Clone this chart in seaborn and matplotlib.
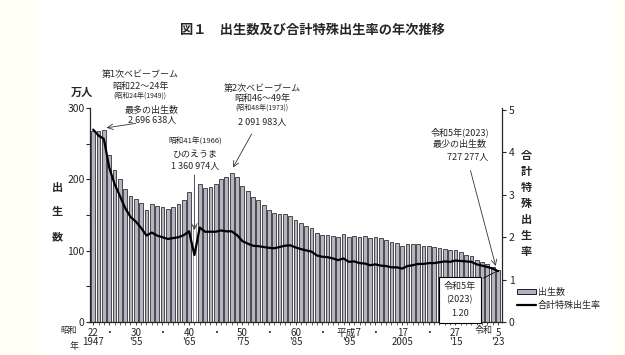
import matplotlib.pyplot as plt
import numpy as np
import pandas as pd
import seaborn as sns
from matplotlib.lines import Line2D
from matplotlib.patches import Patch, Rectangle

years = list(range(1947, 2024))
births = [2678792, 2681624, 2696638, 2337507, 2137689, 2005162, 1868040, 1769580,
          1730692, 1665278, 1566713, 1653469, 1626088, 1606041, 1589372, 1618616,
          1659521, 1716761, 1823697, 1360974, 1935647, 1871839, 1889815, 1934239,
          2000973, 2038682, 2091983, 2029989, 1901440, 1832617, 1755100, 1708643,
          1642580, 1576889, 1529455, 1515392, 1508687, 1489780, 1431577, 1382946,
          1346658, 1314006, 1246802, 1221585, 1223245, 1208989, 1188282, 1238328,
          1187064, 1206555, 1191665, 1203147, 1177669, 1190547, 1170662, 1153855,
          1123610, 1110721, 1062530, 1092674, 1089818, 1091156, 1070036, 1071305,
          1050807, 1037232, 1029817, 1003609, 1005721, 977242, 946146, 918400,
          865239, 840835, 811622, 770759, 727277]
tfr = [4.54, 4.40, 4.32, 3.65, 3.26, 2.98, 2.69, 2.48, 2.37, 2.22, 2.04, 2.11,
       2.04, 2.00, 1.96, 1.98, 2.00, 2.05, 2.14, 1.58, 2.23, 2.13, 2.13, 2.13,
       2.16, 2.14, 2.14, 2.05, 1.91, 1.85, 1.80, 1.79, 1.77, 1.75, 1.74, 1.77,
       1.80, 1.81, 1.76, 1.72, 1.69, 1.66, 1.57, 1.54, 1.53, 1.50, 1.46, 1.50,
       1.42, 1.43, 1.39, 1.38, 1.34, 1.36, 1.33, 1.32, 1.29, 1.29, 1.26, 1.32,
       1.34, 1.37, 1.37, 1.39, 1.39, 1.41, 1.43, 1.42, 1.45, 1.44, 1.43, 1.42,
       1.36, 1.33, 1.30, 1.26, 1.20]

tick_years = [1947, 1950, 1955, 1960, 1965, 1970, 1975, 1980, 1985, 1990,
              1995, 2000, 2005, 2010, 2015, 2023]
tick_labels = ['22\n1947', '・', '30\n\'55', '・', '40\n\'65', '・', '50\n\'75', '・',
               '60\n\'85', '・', '平成7\n\'95', '・', '17\n2005', '・', '27\n\'15', '5\n\'23']

df = pd.DataFrame({'year': years, 'births': np.array(births) / 10000, 'tfr': tfr})

sns.set_style('ticks')
plt.rcParams['font.family'] = ['Noto Sans CJK JP', 'DejaVu Sans']

fig = plt.figure(figsize=(6.25, 3.55), dpi=100, facecolor='white')
fig.patches.append(Rectangle((0, 0), 37 / 625, 1, transform=fig.transFigure,
                             color='#fffff4', zorder=-1))
fig.patches.append(Rectangle((615 / 625, 0), 10 / 625, 1, transform=fig.transFigure,
                             color='#fffff4', zorder=-1))
ax = fig.add_axes([90 / 625, 1 - 322 / 355, 412 / 625, 214 / 355])
ax.set_facecolor('none')

bar_color = '#b2b2c4'
sns.barplot(data=df, x='year', y='births', color=bar_color, edgecolor='#111111',
            linewidth=0.5, width=0.7, ax=ax, zorder=2)
idx66 = years.index(1966)
ax.patches[idx66].set_facecolor('white')
ax.patches[idx66].set_edgecolor('#777777')

ax.set_xlim(-0.6, 76.75)
ax.set_ylim(0, 300)
ax.set_yticks([0, 100, 200, 300])
ax.set_yticks([50, 150, 250], minor=True)
ax.tick_params(axis='y', labelsize=7.5, length=3, width=0.8, pad=1)
ax.tick_params(axis='y', which='minor', length=3, width=0.8)
ax.set_xticks([years.index(y) for y in tick_years])
ax.set_xticklabels(tick_labels, fontsize=7, linespacing=0.95)
ax.set_xticks(range(len(years)), minor=True)
ax.tick_params(axis='x', length=2.5, width=0.6, pad=1.5)
ax.tick_params(axis='x', which='minor', length=2, width=0.5)
ax.set_xlabel('')
ax.set_ylabel('')
for s in ['top', 'right']:
    ax.spines[s].set_visible(False)
ax.spines['left'].set_linewidth(0.9)
ax.spines['bottom'].set_linewidth(0.9)

ax2 = ax.twinx()
sns.lineplot(x=np.arange(len(years)), y=df['tfr'], color='black', linewidth=1.6,
             ax=ax2, zorder=3)
ax2.set_ylim(0, 5.05)
ax2.set_yticks([0, 1, 2, 3, 4, 5])
ax2.tick_params(axis='y', labelsize=7.5, length=3, width=0.8, pad=2)
ax2.set_ylabel('')
for s in ['top', 'left', 'bottom']:
    ax2.spines[s].set_visible(False)
ax2.spines['right'].set_linewidth(0.9)

# titles and axis labels
fig.text(0.5, 1 - 30 / 355, '図１　出生数及び合計特殊出生率の年次推移', ha='center',
         va='center', fontsize=9.5, fontweight='bold')
fig.text(82 / 625, 1 - 92 / 355, '万人', ha='center', va='center', fontsize=8,
         fontweight='bold')
fig.text(57 / 625, 1 - 212 / 355, '出\n\n生\n\n数', ha='center', va='center',
         fontsize=8, fontweight='bold', linespacing=0.95)
fig.text(526 / 625, 1 - 203 / 355, '合\n計\n特\n殊\n出\n生\n率', ha='center',
         va='center', fontsize=8, fontweight='bold', linespacing=1.3)
fig.text(77 / 625, 1 - 330 / 355, '昭和', ha='right', va='center', fontsize=6)
fig.text(74 / 625, 1 - 346 / 355, '年', ha='center', va='center', fontsize=6.5)
fig.text(484 / 625, 1 - 330 / 355, '令和', ha='center', va='center', fontsize=6.5)

# annotations
def ftxt(x, y, s, size=6.5, **kw):
    fig.text(x / 625, 1 - y / 355, s, ha='center', va='center', fontsize=size, **kw)

ftxt(140, 75, '第1次ベビーブーム')
ftxt(140, 86, '昭和22～24年')
ftxt(140, 96, '(昭和24年(1949))', size=5)
ftxt(152, 110, '最多の出生数')
ftxt(152, 120, '2 696 638人')
i49 = years.index(1949)
ax.annotate('', xy=(i49, df['births'][i49] + 2), xytext=(i49 + 6.5, 279),
            arrowprops=dict(arrowstyle='->', color='#333333', lw=0.6))

ftxt(262, 88, '第2次ベビーブーム')
ftxt(262, 98, '昭和46～49年')
ftxt(262, 108, '(昭和48年(1973))', size=5)
ftxt(262, 122, '2 091 983人')
i73 = years.index(1973)
ax.annotate('', xy=(i73, df['births'][i73] + 4), xytext=(i73 + 4, 267),
            arrowprops=dict(arrowstyle='->', color='#333333', lw=0.6))

ftxt(195, 142, '昭和41年(1966)', size=5.5)
ftxt(195, 154, 'ひのえうま')
ftxt(195, 166, '1 360 974人')
ax.annotate('', xy=(idx66, 125), xytext=(idx66, 210),
            arrowprops=dict(arrowstyle='->', color='#333333', lw=0.6))

ftxt(460, 132, '令和5年(2023)')
ftxt(460, 145, '最少の出生数')
ftxt(468, 157, '727 277人')
i23 = years.index(2023)
ax.annotate('', xy=(i23 - 0.3, df['births'][i23] + 2), xytext=(i23 - 5.3, 216),
            arrowprops=dict(arrowstyle='->', color='#333333', lw=0.6))

ax2.annotate('令和5年\n(2023)\n1.20', xy=(i23 - 0.2, tfr[-1]), xytext=(i23 - 7.2, 0.52),
             ha='center', va='center', fontsize=6.5, linespacing=1.6,
             bbox=dict(boxstyle='square,pad=0.55', fc='white', ec='black', lw=0.8),
             arrowprops=dict(arrowstyle='-', color='black', lw=0.6,
                             relpos=(1, 1)), zorder=5)

handles = [Patch(facecolor=bar_color, edgecolor='black', linewidth=0.6, label='出生数'),
           Line2D([0], [0], color='black', lw=1.6, label='合計特殊出生率')]
fig.legend(handles=handles, loc='center left', bbox_to_anchor=(512 / 625, 1 - 299 / 355),
           frameon=False, fontsize=6.5, handlelength=2.2, handleheight=0.5,
           handletextpad=0.2, labelspacing=0.5, borderpad=0)

fig.savefig('out.png', dpi=100)
